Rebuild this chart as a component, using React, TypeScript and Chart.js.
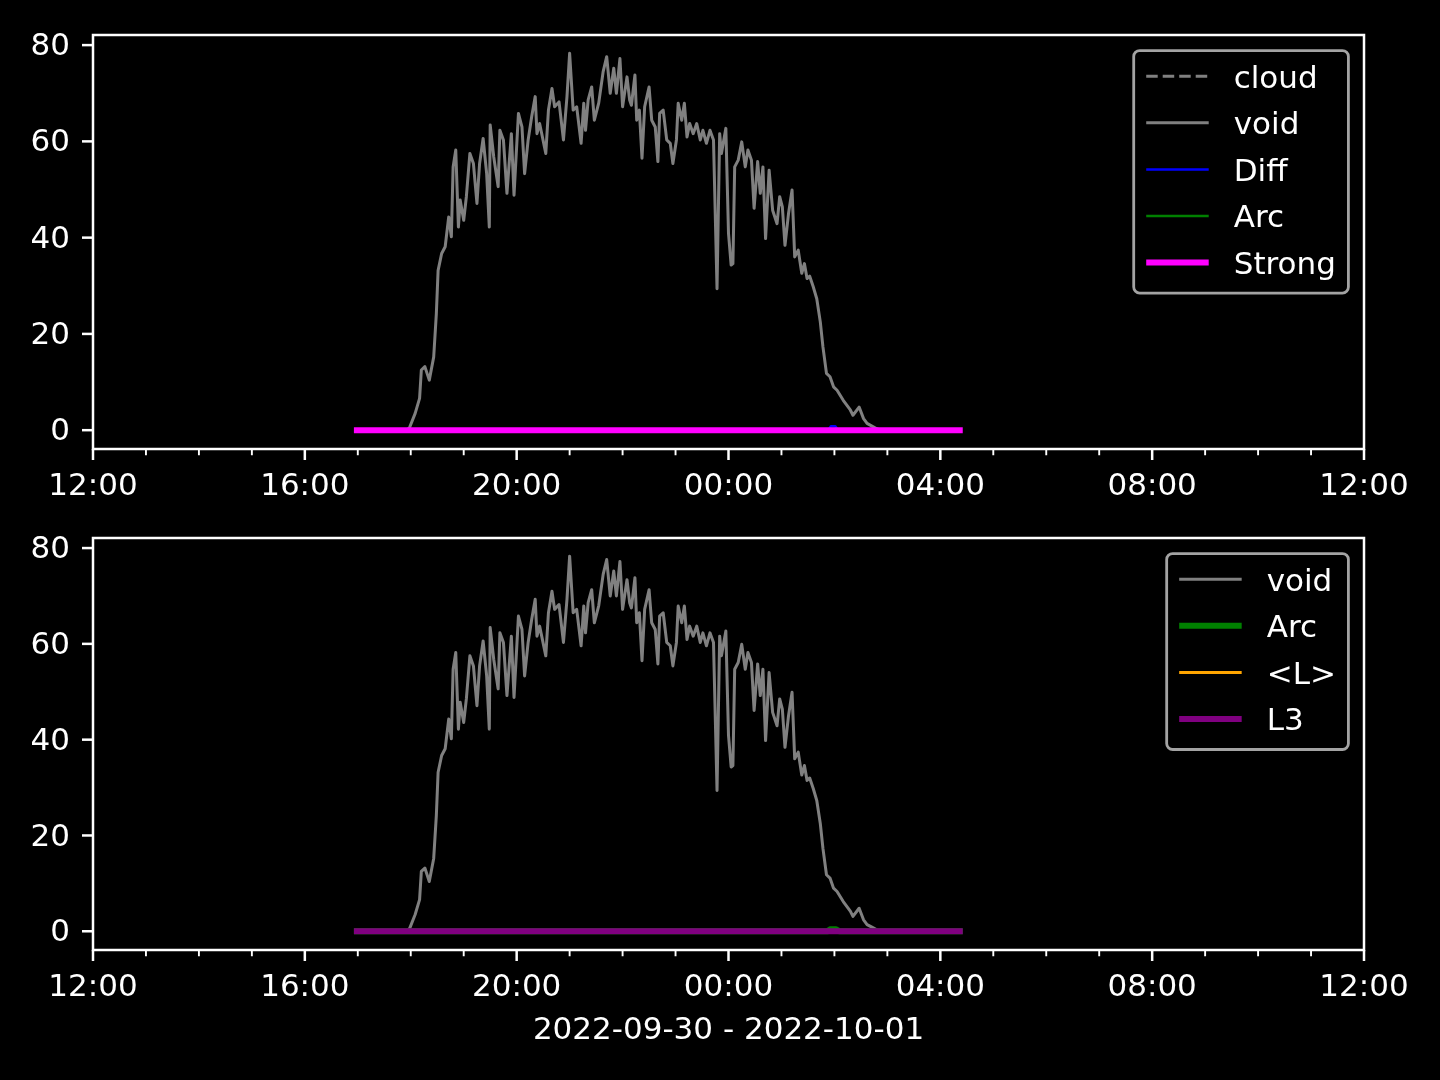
import React, { useEffect, useRef } from "react";
import { Chart, registerables } from "chart.js";

Chart.register(...registerables);

const FONT = "'DejaVu Sans', 'Liberation Sans', sans-serif";

// ---- axes / ticks ----
const xTickHours = [0, 4, 8, 12, 16, 20, 24];
const xMinorHours = [1, 2, 3, 5, 6, 7, 9, 10, 11, 13, 14, 15, 17, 18, 19, 21, 22, 23];
const yTicks = [0, 20, 40, 60, 80];
const Y_MIN = -3.91;
const Y_MAX = 82.1;
const X_LABEL = "2022-09-30 - 2022-10-01";

// ---- data ----
const voidTimes = [
  "16:59", "17:56", "17:59", "18:05", "18:10", "18:12", "18:16", "18:21", "18:26", "18:29",
  "18:31", "18:35", "18:39", "18:43", "18:46", "18:48", "18:51", "18:54", "18:56", "19:00",
  "19:03", "19:07", "19:11", "19:15", "19:18", "19:22", "19:26", "19:29", "19:30", "19:34",
  "19:39", "19:41", "19:45", "19:49", "19:54", "19:57", "20:02", "20:06", "20:09", "20:13",
  "20:17", "20:21", "20:23", "20:26", "20:33", "20:36", "20:40", "20:43", "20:48", "20:53",
  "20:57", "21:00", "21:04", "21:08", "21:13", "21:16", "21:18", "21:21", "21:25", "21:28",
  "21:33", "21:38", "21:42", "21:46", "21:50", "21:53", "21:57", "22:00", "22:05", "22:08",
  "22:10", "22:14", "22:16", "22:19", "22:22", "22:25", "22:30", "22:33", "22:37", "22:40",
  "22:42", "22:46", "22:50", "22:54", "22:57", "23:01", "23:03", "23:07", "23:10", "23:13",
  "23:16", "23:20", "23:24", "23:28", "23:31", "23:35", "23:39", "23:43", "23:47", "23:50",
  "23:52", "23:57", "00:00", "00:03", "00:05", "00:07", "00:11", "00:15", "00:19", "00:22",
  "00:26", "00:29", "00:33", "00:36", "00:39", "00:42", "00:46", "00:50", "00:55", "00:58",
  "01:01", "01:04", "01:08", "01:12", "01:15", "01:19", "01:23", "01:26", "01:29", "01:32",
  "01:36", "01:40", "01:44", "01:47", "01:51", "01:55", "01:59", "02:03", "02:10", "02:18",
  "02:21", "02:28", "02:33", "02:37", "02:44", "02:48", "02:52", "04:22",
];
const voidValues = [
  0, 0, 0.7, 3.5, 6.6, 12.5, 13.2, 10.4, 15.2, 24.2,
  33.2, 36.7, 38.1, 44.3, 40.2, 54.7, 58.2, 42.2, 47.8, 43.6,
  48.5, 57.5, 55.4, 47.1, 55.4, 60.6, 53.3, 42.2, 63.4, 56.8,
  50.6, 62.3, 60.3, 49.2, 61.6, 48.8, 65.8, 63.0, 53.3, 60.3,
  65.1, 69.3, 61.6, 63.7, 57.5, 66.5, 71.0, 67.2, 68.2, 60.3,
  69.3, 78.3, 66.5, 67.2, 59.6, 67.9, 62.3, 68.6, 71.3, 64.4,
  68.0, 74.5, 77.6, 70.0, 75.2, 70.0, 77.2, 67.2, 73.4, 68.6,
  67.5, 73.8, 64.4, 66.5, 56.5, 67.2, 71.3, 64.4, 63.0, 55.8,
  65.8, 66.5, 60.3, 59.6, 55.4, 60.3, 67.9, 64.4, 67.9, 60.9,
  63.7, 61.6, 63.7, 60.3, 62.3, 59.6, 62.3, 60.3, 29.4, 61.6,
  57.5, 62.7, 40.9, 34.3, 34.6, 54.7, 56.1, 59.9, 54.7, 58.2,
  56.1, 46.1, 55.8, 49.2, 54.7, 39.8, 54.0, 45.7, 42.9, 48.5,
  46.4, 38.4, 45.0, 49.9, 36.0, 37.4, 32.6, 34.6, 31.5, 32.0,
  29.8, 27.3, 22.5, 17.3, 11.8, 11.1, 9.0, 8.3, 6.2, 4.2,
  3.1, 4.8, 2.4, 1.4, 0.7, 0.3, 0, 0,
];

const cloudTimes: string[] = [];
const cloudValues: number[] = [];

const diffTimes = ["16:59", "01:53", "01:56", "02:01", "02:04", "04:22"];
const diffValues = [0, 0, 0.8, 0.8, 0, 0];

const arcTopTimes = ["16:59", "04:22"];
const arcTopValues = [0, 0];

const strongTimes = ["16:59", "04:22"];
const strongValues = [0, 0];

const arcBottomTimes = ["16:59", "01:52", "01:55", "02:02", "02:06", "04:22"];
const arcBottomValues = [0, 0, 0.4, 0.4, 0, 0];

const meanLTimes = ["16:59", "04:22"];
const meanLValues = [0, 0];

const l3Times = ["16:59", "04:22"];
const l3Values = [0, 0];

// ---- helpers ----
function toHours(t: string): number {
  const [h, m] = t.split(":").map(Number);
  let v = h + m / 60 - 12;
  if (v < 0) v += 24;
  return v;
}
function pts(times: string[], values: number[]) {
  return times.map((t, i) => ({ x: toHours(t), y: values[i] }));
}
function fmtHour(v: number): string {
  const h = (12 + Math.round(v)) % 24;
  return `${String(h).padStart(2, "0")}:00`;
}

function ds(label: string, times: string[], values: number[], color: string, width: number, order: number, dash?: number[]) {
  return {
    label,
    data: pts(times, values),
    borderColor: color,
    backgroundColor: color,
    borderWidth: width,
    borderDash: dash || [],
    borderCapStyle: dash ? "butt" : "square",
    borderJoinStyle: "round",
    pointRadius: 0,
    fill: false,
    tension: 0,
    order,
  };
}

const mplPlugin = {
  id: "mplStyle",
  afterDraw(chart: any) {
    const ctx = chart.ctx as CanvasRenderingContext2D;
    const a = chart.chartArea;
    const xs = chart.scales.x;
    const ys = chart.scales.y;
    ctx.save();
    ctx.strokeStyle = "#ffffff";
    ctx.lineCap = "butt";
    // x major ticks
    ctx.lineWidth = 2.5;
    for (const v of xTickHours) {
      const px = xs.getPixelForValue(v);
      ctx.beginPath();
      ctx.moveTo(px, a.bottom);
      ctx.lineTo(px, a.bottom + 11);
      ctx.stroke();
    }
    // x minor ticks
    ctx.lineWidth = 1.9;
    for (const v of xMinorHours) {
      const px = xs.getPixelForValue(v);
      ctx.beginPath();
      ctx.moveTo(px, a.bottom);
      ctx.lineTo(px, a.bottom + 6.25);
      ctx.stroke();
    }
    // y ticks
    ctx.lineWidth = 2.5;
    for (const v of yTicks) {
      const py = ys.getPixelForValue(v);
      ctx.beginPath();
      ctx.moveTo(a.left - 11, py);
      ctx.lineTo(a.left, py);
      ctx.stroke();
    }
    // spines
    ctx.lineWidth = 2.5;
    ctx.strokeRect(a.left, a.top, a.right - a.left, a.bottom - a.top);

    // legend
    const sets = chart.data.datasets;
    const n = sets.length;
    ctx.font = `31px ${FONT}`;
    const maxW = Math.max(...sets.map((d: any) => ctx.measureText(d.label).width));
    const pitch = 46.6;
    const w = 12.5 + 62.5 + 25 + maxW + 12.5;
    const h = n * pitch + 9.5;
    const right = a.right - 15.6;
    const top = a.top + 15.6;
    const left = right - w;
    const bottom = top + h;
    ctx.beginPath();
    ctx.roundRect(left, top, w, h, 6);
    ctx.fillStyle = "rgba(0,0,0,0.8)";
    ctx.fill();
    ctx.strokeStyle = "#a3a3a3";
    ctx.lineWidth = 2.8;
    ctx.stroke();
    sets.forEach((d: any, i: number) => {
      const cy = bottom - 30.5 - (n - 1 - i) * pitch;
      ctx.save();
      ctx.strokeStyle = d.borderColor;
      ctx.lineWidth = d.borderWidth;
      const dashed = d.borderDash && d.borderDash.length > 0;
      ctx.setLineDash(dashed ? d.borderDash : []);
      ctx.lineCap = dashed ? "butt" : "square";
      ctx.beginPath();
      ctx.moveTo(left + 12.5 + (dashed ? 0 : d.borderWidth / 2), cy);
      ctx.lineTo(left + 75 - (dashed ? 0 : d.borderWidth / 2), cy);
      ctx.stroke();
      ctx.restore();
      ctx.fillStyle = "#ffffff";
      ctx.textAlign = "left";
      ctx.textBaseline = "alphabetic";
      ctx.fillText(d.label, left + 100, cy + 11.4);
    });
    ctx.restore();
  },
};

function makeConfig(datasets: any[], padTop: number, xHeight: number, title: string | null): any {
  const tickFont = { family: FONT, size: 31, lineHeight: 1 };
  return {
    type: "line",
    data: { datasets },
    options: {
      responsive: false,
      animation: false,
      devicePixelRatio: 1,
      layout: { padding: { top: padTop, right: 76, left: 0, bottom: 0 } },
      plugins: {
        legend: { display: false },
        tooltip: { enabled: false },
        title: { display: false },
      },
      elements: { point: { radius: 0 } },
      scales: {
        x: {
          type: "linear",
          min: 0,
          max: 24,
          grid: { display: false, drawTicks: false },
          border: { display: false },
          afterBuildTicks: (s: any) => {
            s.ticks = xTickHours.map((v) => ({ value: v }));
          },
          afterFit: (s: any) => {
            s.height = xHeight;
            s.paddingLeft = 0;
            s.paddingRight = 0;
          },
          ticks: {
            autoSkip: false,
            maxRotation: 0,
            minRotation: 0,
            color: "#ffffff",
            padding: 22,
            font: tickFont,
            callback: (v: number) => fmtHour(v),
          },
          title: title
            ? {
                display: true,
                text: title,
                color: "#ffffff",
                font: tickFont,
                padding: { top: 0, bottom: 33.5 },
              }
            : { display: false },
        },
        y: {
          type: "linear",
          min: Y_MIN,
          max: Y_MAX,
          grid: { display: false, drawTicks: false },
          border: { display: false },
          afterBuildTicks: (s: any) => {
            s.ticks = yTicks.map((v) => ({ value: v }));
          },
          afterFit: (s: any) => {
            s.width = 93;
            s.paddingTop = 0;
            s.paddingBottom = 0;
          },
          ticks: {
            color: "#ffffff",
            padding: 23,
            labelOffset: 2,
            font: tickFont,
            callback: (v: number) => String(v),
          },
        },
      },
    },
    plugins: [mplPlugin],
  };
}

export default function App() {
  const topRef = useRef<HTMLCanvasElement>(null);
  const botRef = useRef<HTMLCanvasElement>(null);

  useEffect(() => {
    Chart.defaults.font.family = FONT;
    Chart.defaults.color = "#ffffff";
    const topSets = [
      ds("cloud", cloudTimes, cloudValues, "#808080", 3, 4, [11.5, 5]),
      ds("void", voidTimes, voidValues, "#808080", 3, 3),
      ds("Diff", diffTimes, diffValues, "#0000ff", 2.5, 2),
      ds("Arc", arcTopTimes, arcTopValues, "#008000", 2.5, 1),
      ds("Strong", strongTimes, strongValues, "#ff00ff", 6, 0),
    ];
    const botSets = [
      ds("void", voidTimes, voidValues, "#808080", 3, 3),
      ds("Arc", arcBottomTimes, arcBottomValues, "#008000", 6, 2),
      ds("<L>", meanLTimes, meanLValues, "#ffa500", 3, 1),
      ds("L3", l3Times, l3Values, "#800080", 6, 0),
    ];
    const c1 = new Chart(topRef.current!, makeConfig(topSets, 35, 71, null));
    const c2 = new Chart(botRef.current!, makeConfig(botSets, 18, 130, X_LABEL));
    return () => {
      c1.destroy();
      c2.destroy();
    };
  }, []);

  return (
    <div
      style={{
        position: "absolute",
        left: 0,
        top: 0,
        width: 1440,
        height: 1080,
        background: "#000000",
        overflow: "hidden",
      }}
    >
      <canvas
        ref={topRef}
        width={1440}
        height={520}
        style={{ position: "absolute", left: 0, top: 0, width: 1440, height: 520 }}
      />
      <canvas
        ref={botRef}
        width={1440}
        height={560}
        style={{ position: "absolute", left: 0, top: 520, width: 1440, height: 560 }}
      />
    </div>
  );
}
